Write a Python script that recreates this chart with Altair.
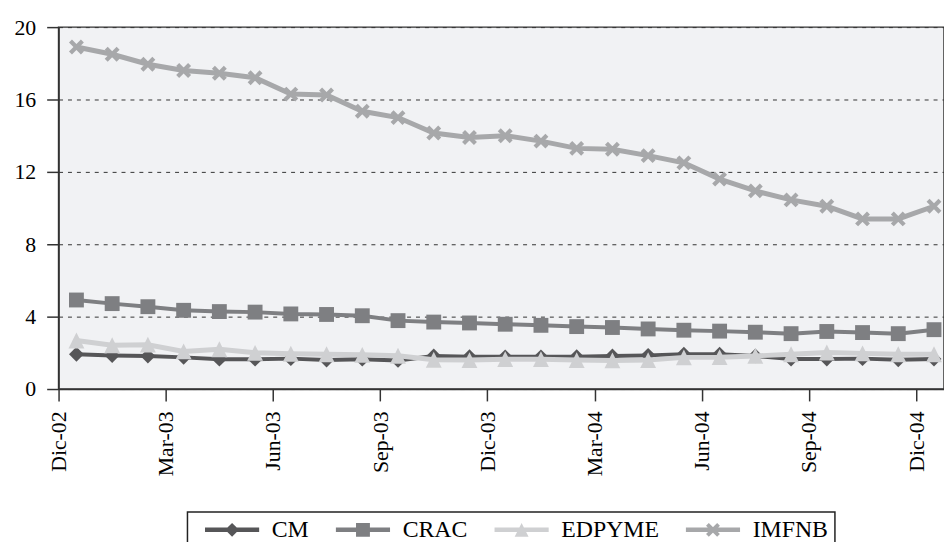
import altair as alt
import pandas as pd

# ---------------- data ----------------
meses = ["Dic-02", "Ene-03", "Feb-03", "Mar-03", "Abr-03", "May-03", "Jun-03",
         "Jul-03", "Ago-03", "Sep-03", "Oct-03", "Nov-03", "Dic-03", "Ene-04",
         "Feb-04", "Mar-04", "Abr-04", "May-04", "Jun-04", "Jul-04", "Ago-04",
         "Sep-04", "Oct-04", "Nov-04", "Dic-04"]
tick_labels = ["Dic-02", "Mar-03", "Jun-03", "Sep-03", "Dic-03",
               "Mar-04", "Jun-04", "Sep-04", "Dic-04"]
series = ["CM", "CRAC", "EDPYME", "IMFNB"]

cm = [1.92, 1.85, 1.82, 1.75, 1.65, 1.65, 1.68, 1.60, 1.65, 1.58, 1.83, 1.79, 1.78,
      1.78, 1.79, 1.83, 1.86, 1.92, 1.92, 1.83, 1.66, 1.66, 1.68, 1.62, 1.66]
crac = [4.92, 4.72, 4.55, 4.35, 4.28, 4.25, 4.15, 4.12, 4.05, 3.78, 3.70, 3.65, 3.58,
        3.52, 3.45, 3.40, 3.32, 3.25, 3.20, 3.14, 3.06, 3.18, 3.12, 3.06, 3.28]
edpyme = [2.68, 2.42, 2.45, 2.08, 2.20, 2.00, 1.95, 1.92, 1.89, 1.84, 1.62, 1.60, 1.65,
          1.65, 1.60, 1.58, 1.60, 1.75, 1.76, 1.83, 1.92, 2.02, 1.97, 1.92, 1.92]
imfnb = [18.9, 18.5, 17.95, 17.6, 17.45, 17.2, 16.3, 16.25, 15.35, 15.0, 14.15, 13.9, 14.0,
         13.7, 13.3, 13.25, 12.9, 12.5, 11.6, 10.95, 10.45, 10.1, 9.4, 9.4, 10.1]

colors = ["#565658", "#7e7f82", "#cfd0d2", "#a7a8aa"]
line_widths = [4, 4, 5, 5]

# marker shapes (custom SVG paths in the unit square)
diamond = "M0,-1L1,0L0,1L-1,0Z"
square = "M-1,-1H1V1H-1Z"
triangle = "M0,-1L1,1L-1,1Z"
xcross = "M-1,-0.6L-0.6,-1L1,0.6L0.6,1Z M0.6,-1L1,-0.6L-0.6,1L-1,0.6Z"
markers = [diamond, square, triangle, xcross]
marker_sizes = [225, 225, 256, 225]
legend_line = "M-3.9,-0.32H3.9V0.32H-3.9Z "
legend_paths = [legend_line + m for m in markers]

rows = []
for s, vals in zip(series, [cm, crac, edpyme, imfnb]):
    for i, (m, v) in enumerate(zip(meses, vals)):
        rows.append({"serie": s, "mes": m, "t": i + 0.5, "valor": v})
df = pd.DataFrame(rows)

FONT = "Liberation Serif"
label_expr = "[" + ",".join("'%s'" % t for t in tick_labels) + "][round(datum.value/3)]"

x_enc = alt.X(
    "t:Q",
    scale=alt.Scale(domain=[0, 24.78], nice=False, zero=False),
    axis=alt.Axis(values=[3 * k for k in range(len(tick_labels))], labelExpr=label_expr,
                  labelAngle=-90, title=None, grid=False, tickSize=12, labelPadding=10),
)
y_enc = alt.Y(
    "valor:Q",
    scale=alt.Scale(domain=[0, 20], nice=False),
    axis=alt.Axis(values=[0, 4, 8, 12, 16, 20], title=None, grid=True,
                  gridDash=[4, 5], gridColor="#333", gridWidth=1,
                  tickSize=12, labelPadding=11),
)

base = alt.Chart(df)
layers = []
for s, col, lw, mk, ms in zip(series, colors, line_widths, markers, marker_sizes):
    sub = base.transform_filter(alt.datum.serie == s)
    layers.append(sub.mark_line(color=col, strokeWidth=lw).encode(x=x_enc, y=y_enc))
    layers.append(sub.mark_point(shape=mk, size=ms, filled=True, color=col, opacity=1)
                  .encode(x=x_enc, y=y_enc))

leg = alt.Legend(title=None, orient="none", legendX=130, legendY=489,
                 direction="horizontal", columns=4)
legend_layer = base.transform_filter("false").mark_point(
    filled=True, size=196, opacity=1).encode(
    x=x_enc, y=y_enc,
    color=alt.Color("serie:N", scale=alt.Scale(domain=series, range=colors), legend=leg),
    shape=alt.Shape("serie:N", scale=alt.Scale(domain=series, range=legend_paths), legend=leg),
)
layers.append(legend_layer)

chart = alt.layer(*layers).properties(
    width=893, height=365,
    autosize=alt.AutoSizeParams(type="none"),
    padding={"left": 51, "top": 17, "right": 0, "bottom": 152},
).configure_view(
    fill="#f1f2f4", stroke="#333333", strokeWidth=1.5
).configure_axis(
    labelFont=FONT, labelFontSize=22, labelColor="#000000",
    domainColor="#333333", domainWidth=1.5, tickColor="#333333", tickWidth=1.5,
).configure_legend(
    labelFont=FONT, labelFontSize=24, labelColor="#000000",
    strokeColor="#222222", strokeWidth=1.5, fillColor="#ffffff", padding=6,
    symbolStrokeWidth=0, symbolSize=196, symbolOffset=27, labelOffset=28,
    columnPadding=15,
)

chart.save("out.html", embed_options={"renderer": "svg", "actions": False})
